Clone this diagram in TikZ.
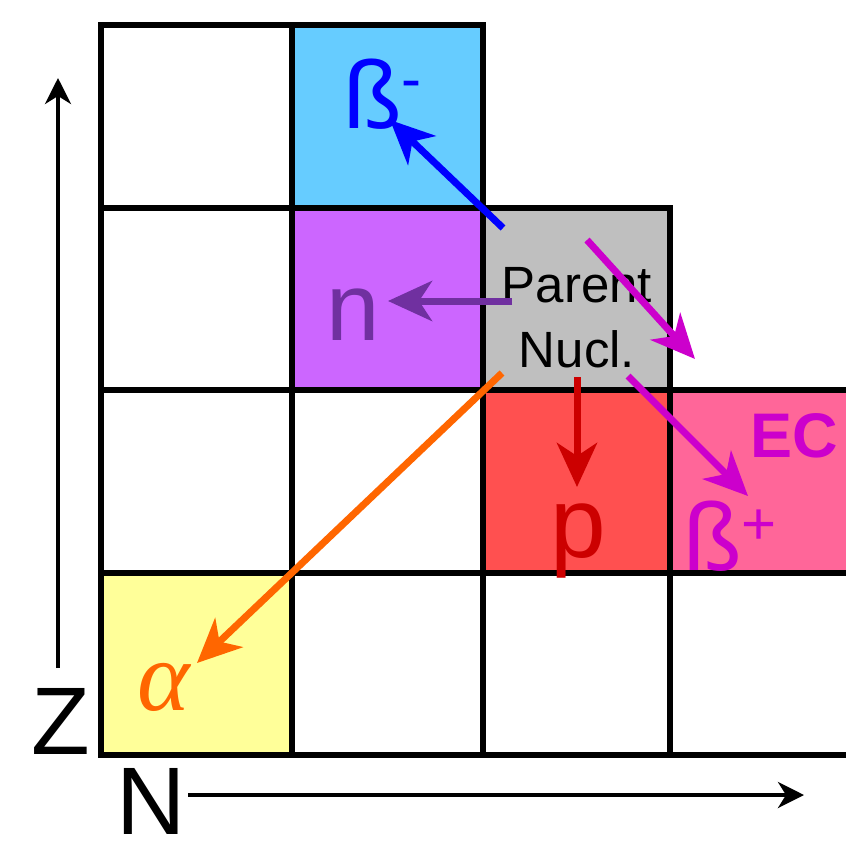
\documentclass[tikz,border=0pt]{standalone}
\usepackage{fontspec}
\setmainfont{Liberation Sans}
\newfontfamily\greekserif{Liberation Serif}
\usetikzlibrary{arrows.meta}
\definecolor{cellblue}{HTML}{66CCFF}
\definecolor{cellpurple}{HTML}{CC66FF}
\definecolor{cellgray}{HTML}{BFBFBF}
\definecolor{cellred}{HTML}{FF5050}
\definecolor{cellpink}{HTML}{FF6699}
\definecolor{cellyellow}{HTML}{FFFF99}
\definecolor{betaminus}{HTML}{0000FF}
\definecolor{neutron}{HTML}{7030A0}
\definecolor{proton}{HTML}{CC0000}
\definecolor{betaplus}{HTML}{CC00CC}
\definecolor{alphaorange}{HTML}{FF6600}
\tikzset{
  cell/.style={draw=black, line width=5.5pt},
  decay/.style={line width=7pt, -{Stealth[length=44pt,width=40pt,inset=13pt]}},
  axis/.style={line width=4pt, -{Stealth[length=26pt,width=26pt,inset=8pt]}},
  label/.style={inner sep=0pt, font=\fontsize{96}{96}\selectfont}
}
\newcommand{\supsize}{\fontsize{60}{60}\selectfont}
\begin{document}
\begin{tikzpicture}[x=1pt, y=-1pt]
  \useasboundingbox (0,0) rectangle (846,846);
  \clip (0,0) rectangle (846,846);
  % chart cells
  \path[cell, fill=white]       (101,25)  rectangle (292,208);
  \path[cell, fill=cellblue]    (292,25)  rectangle (483,208);
  \path[cell, fill=white]       (101,208) rectangle (292,390);
  \path[cell, fill=cellpurple]  (292,208) rectangle (483,390);
  \path[cell, fill=cellgray]    (483,208) rectangle (670,390);
  \path[cell, fill=white]       (101,390) rectangle (292,573);
  \path[cell, fill=white]       (292,390) rectangle (483,573);
  \path[cell, fill=cellred]     (483,390) rectangle (670,573);
  \path[cell, fill=cellpink]    (670,390) rectangle (870,573);
  \path[cell, fill=cellyellow]  (101,573) rectangle (292,755);
  \path[cell, fill=white]       (292,573) rectangle (483,755);
  \path[cell, fill=white]       (483,573) rectangle (670,755);
  \path[cell, fill=white]       (670,573) rectangle (870,755);
  % axes
  \coordinate (zstart) at (58,668);
  \coordinate (zend)   at (58,78);
  \coordinate (nstart) at (188,795);
  \coordinate (nend)   at (804,795);
  \draw[axis] (zstart) -- (zend);
  \draw[axis] (nstart) -- (nend);
  \node[label, anchor=base west] (zlabel) at (31,754) {Z};
  \node[label, anchor=base west] (nlabel) at (116,834) {N};
  % parent nucleus
  \node[inner sep=0pt, font=\fontsize{51}{65}\selectfont, anchor=base] (parent1) at (577,302) {Parent};
  \node[inner sep=0pt, font=\fontsize{51}{65}\selectfont, anchor=base] (parent2) at (577,367) {Nucl.};
  % decay modes
  \node[label, anchor=base west, text=betaminus] (bminus) at (343,128)
    {ß{\supsize\raisebox{29pt}{-}}};
  \node[label, anchor=base west, text=neutron] (neutron) at (326,340) {n};
  \node[label, anchor=base west, text=proton, font=\fontsize{100}{100}\selectfont] (proton) at (550,557) {p};
  \node[label, anchor=base west, text=betaplus] (bplus) at (683,570)
    {ß{\supsize\raisebox{26pt}{+}}};
  \node[inner sep=0pt, anchor=base west, text=betaplus, font=\fontsize{63}{63}\selectfont\bfseries] (ec) at (750,457) {EC};
  \node[inner sep=0pt, anchor=base west, text=alphaorange, font=\fontsize{100}{100}\selectfont\greekserif\itshape] (alpha) at (137,710) {α};
  % arrows
  \coordinate (bmstart) at (503,228);
  \coordinate (bmtip)   at (390,120);
  \coordinate (nstart2) at (512,301);
  \coordinate (ntip)    at (388,301);
  \coordinate (ecstart) at (587,240);
  \coordinate (ectip)   at (695,359);
  \coordinate (bpstart) at (628,376);
  \coordinate (bptip)   at (748,496);
  \coordinate (pstart)  at (577,377);
  \coordinate (ptip)    at (577,487);
  \coordinate (astart)  at (502,373);
  \coordinate (atip)    at (197,663);
  \draw[decay, betaminus]   (bmstart) -- (bmtip);
  \draw[decay, neutron]     (nstart2) -- (ntip);
  \draw[decay, betaplus]    (ecstart) -- (ectip);
  \draw[decay, betaplus]    (bpstart) -- (bptip);
  \draw[decay, proton]      (pstart)  -- (ptip);
  \draw[decay, alphaorange] (astart)  -- (atip);
\end{tikzpicture}
\end{document}
